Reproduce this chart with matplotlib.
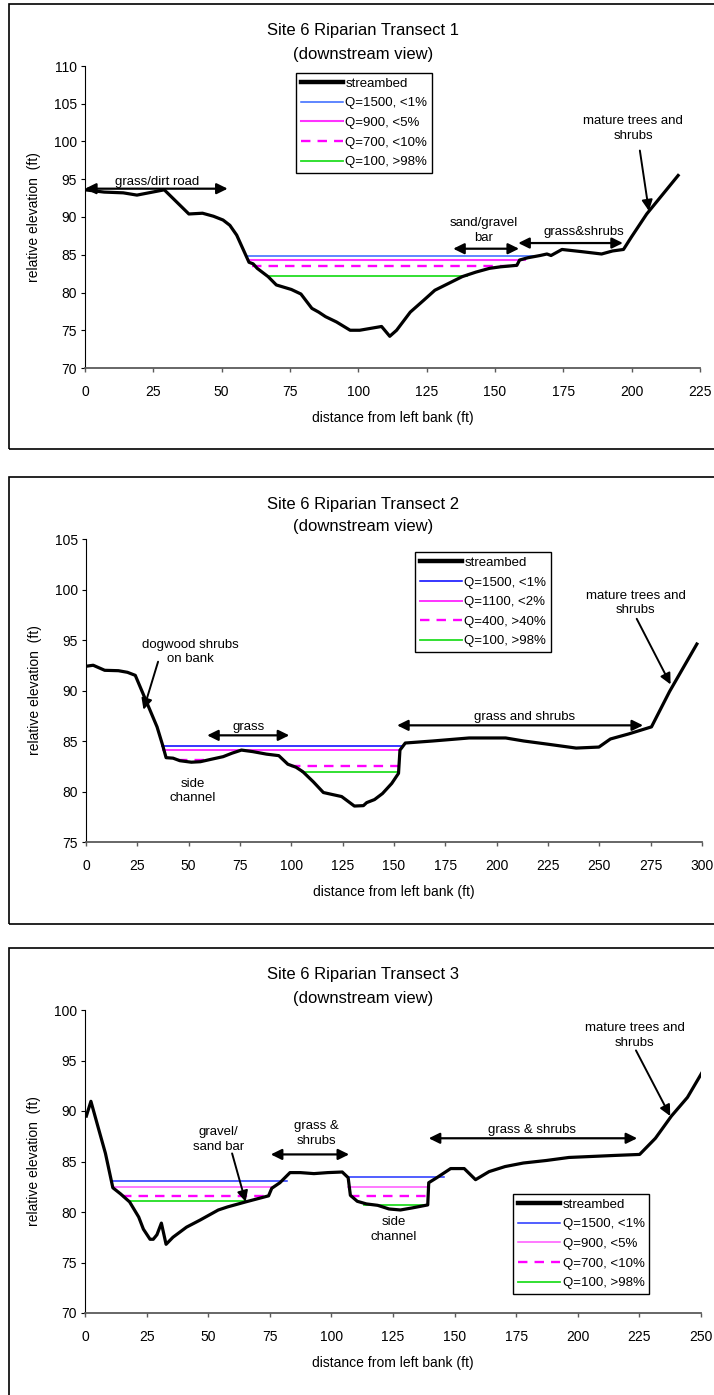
import matplotlib
matplotlib.use("Agg")
import matplotlib.pyplot as plt
from matplotlib.lines import Line2D
from matplotlib.patches import Rectangle

plt.rcParams['font.family'] = ['Liberation Sans', 'DejaVu Sans']

# ---------------- Transect 1 ----------------
t1_dist = [0, 7, 14, 19, 29, 38, 43, 47, 50.5, 53, 55.5, 60, 61.5, 63, 67, 70,
           75.5, 79, 83, 85.5, 88, 92, 97, 100.5, 108.5, 111.5, 114, 119, 124,
           128, 133, 138, 143, 148, 152, 158, 159, 162, 166.5, 169, 170.5,
           174.5, 182, 189, 193, 197, 200, 205.5, 217]
t1_elev = [93.6, 93.3, 93.2, 92.9, 93.6, 90.4, 90.5, 90.1, 89.6, 88.9, 87.6,
           84.0, 83.8, 83.2, 82.1, 81.0, 80.4, 79.8, 77.9, 77.4, 76.8, 76.1,
           75.0, 75.0, 75.5, 74.2, 75.0, 77.4, 79.0, 80.3, 81.2, 82.1, 82.7,
           83.2, 83.4, 83.6, 84.3, 84.6, 84.9, 85.1, 84.9, 85.7, 85.4, 85.1,
           85.5, 85.7, 87.4, 90.4, 95.5]
t1_labels = ['Q=1500, <1%', 'Q=900, <5%', 'Q=700, <10%', 'Q=100, >98%']
t1_wse = [[84.8], [84.35], [83.55], [82.2]]
t1_from = [[59.7], [59.8], [61.0], [67.7]]
t1_to = [[166.3], [161.0], [158.2], [139.7]]

# ---------------- Transect 2 ----------------
t2_dist = [0, 3.5, 9.1, 15.8, 20.2, 24, 29, 34.6, 37.3, 39, 42.4, 45.7, 51.3,
           55.7, 61.2, 66.8, 71.2, 75.7, 81.2, 87.9, 93.9, 98.3, 102.3, 105.6,
           110.7, 115.6, 120, 124.5, 130.7, 135.1, 136.7, 140.5, 144.4, 148.9,
           152.2, 152.9, 155.5, 168.8, 186.6, 204.4, 213.2, 224.3, 238.7,
           249.8, 255.4, 264.3, 275.4, 284.2, 297.5]
t2_elev = [92.4, 92.5, 92.0, 91.96, 91.8, 91.5, 89.1, 86.4, 84.6, 83.35, 83.3,
           83.05, 82.9, 82.95, 83.2, 83.45, 83.8, 84.1, 83.95, 83.7, 83.55,
           82.7, 82.4, 81.96, 80.96, 79.9, 79.7, 79.5, 78.56, 78.6, 78.9, 79.2,
           79.8, 80.8, 81.8, 84.1, 84.8, 85.0, 85.3, 85.3, 85.0, 84.7, 84.3,
           84.4, 85.2, 85.7, 86.4, 89.9, 94.6]
t2_labels = ['Q=1500, <1%', 'Q=1100, <2%', 'Q=400, >40%', 'Q=100, >98%']
t2_wse = [[84.5], [84.1], [83.1, 82.55], [81.9]]
t2_from = [[36.8], [37.3], [44.6, 99.6], [105.0]]
t2_to = [[153.8], [152.9], [59.0, 152.4], [152.4]]

# ---------------- Transect 3 ----------------
t3_dist = [0.55, 2.4, 5.2, 8.3, 11.3, 14.4, 18.1, 21.8, 23.7, 26.4, 27.7, 29.2,
           31.0, 32.9, 35.7, 41.2, 46.7, 54.1, 57.8, 65.2, 74.5, 75.8, 79.1,
           83.2, 87.4, 92.9, 98.5, 104.4, 106.8, 107.7, 110.5, 114.2, 118.8,
           123.4, 128, 132.7, 139.1, 139.5, 142.8, 148.4, 153.9, 158.5, 164,
           170.5, 177.9, 187.2, 196.4, 205.7, 214.9, 225.1, 231.5, 238, 244.5,
           250.4]
t3_elev = [89.5, 90.96, 88.5, 85.8, 82.4, 81.8, 81.0, 79.5, 78.3, 77.3, 77.3,
           77.75, 78.9, 76.8, 77.5, 78.5, 79.2, 80.2, 80.5, 81.0, 81.6, 82.35,
           82.9, 83.9, 83.9, 83.8, 83.9, 83.96, 83.4, 81.65, 81.06, 80.8, 80.66,
           80.3, 80.2, 80.4, 80.7, 82.9, 83.4, 84.3, 84.3, 83.2, 84.0, 84.5,
           84.85, 85.1, 85.4, 85.5, 85.6, 85.7, 87.3, 89.5, 91.35, 93.8]
t3_labels = ['Q=1500, <1%', 'Q=900, <5%', 'Q=700, <10%', 'Q=100, >98%']
t3_wse = [[83.1, 83.5], [82.5, 82.5], [81.6, 81.6], [81.1, 80.7]]
t3_from = [[10.8, 106.2], [11.3, 106.8], [14.9, 107.7], [17.9, 113.3]]
t3_to = [[81.9, 145.6], [76.3, 139.1], [74.3, 139.1], [64.9, 139.1]]

W, H = 714, 1395
fig = plt.figure(figsize=(W / 100, H / 100), dpi=100)
fig.patch.set_facecolor('white')


def px_rect(left, top, right, bottom):
    return [left / W, 1 - bottom / H, (right - left) / W, (bottom - top) / H]


# chart-area frames
for top, bottom in [(4, 449), (477, 924), (948, 1420)]:
    fig.add_artist(Rectangle((9 / W, 1 - bottom / H), (740 - 9) / W,
                             (bottom - top) / H, transform=fig.transFigure,
                             fill=False, edgecolor='black', lw=1.2))


def draw_panel(ax, dist, elev, wse, xf, xt, labels, colors, styles, widths,
               xmax, ylim, leg_anchor):
    ax.plot(dist, elev, color='black', lw=2.3, solid_joinstyle='round',
            zorder=5)
    handles = [Line2D([], [], color='black', lw=3.2, label='streambed')]
    for levels, a, b, lab, c, ls, w in zip(wse, xf, xt, labels, colors,
                                            styles, widths):
        for lev, x0, x1 in zip(levels, a, b):
            ax.plot([x0, x1], [lev, lev], color=c, ls=ls, lw=w, zorder=3,
                    dashes=(4, 3) if ls == '--' else (None, None))
        kw = dict(dashes=(4, 3)) if ls == '--' else {}
        handles.append(Line2D([], [], color=c, ls=ls, lw=w, label=lab, **kw))
    ax.set_xlim(0, xmax)
    ax.set_ylim(*ylim)
    ax.set_xticks(range(0, xmax + 1, 25))
    ax.set_yticks(range(ylim[0], ylim[1] + 1, 5))
    for s in ['top', 'right']:
        ax.spines[s].set_visible(False)
    ax.spines['left'].set_color('black')
    ax.spines['left'].set_linewidth(0.8)
    ax.spines['bottom'].set_color('#5a5a5a')
    ax.spines['bottom'].set_linewidth(1.3)
    ax.tick_params(axis='x', direction='out', length=3, width=1.0,
                   color='#5a5a5a', pad=9, labelsize=10)
    ax.tick_params(axis='y', direction='out', length=3, width=0.8,
                   color='black', pad=3, labelsize=10)
    ax.set_xlabel('distance from left bank (ft)', fontsize=10)
    ax.xaxis.set_label_coords(0.5, -0.166)
    ax.xaxis.label.set_va('center')
    ax.set_ylabel('relative elevation  (ft)', fontsize=10)
    ax.yaxis.set_label_coords(-0.083, 0.5)
    ax.yaxis.label.set_va('center')
    leg = ax.legend(handles=handles, loc='upper left',
                    bbox_to_anchor=leg_anchor, borderaxespad=0,
                    fancybox=False, edgecolor='black', framealpha=1,
                    fontsize=9.5, handlelength=3.2, handletextpad=0.2,
                    labelspacing=0.56, borderpad=0.35)
    leg.get_frame().set_linewidth(1.0)
    leg.set_zorder(10)


def title(top_px, num):
    fig.text(363 / W, 1 - (top_px - 35) / H,
             'Site 6 Riparian Transect %d' % num, ha='center', va='center',
             fontsize=12)
    fig.text(363 / W, 1 - (top_px - 12) / H, '(downstream view)',
             ha='center', va='center', fontsize=12)


def note(ax, x, y, s):
    ax.text(x, y, s, ha='center', va='center', fontsize=9.5,
            linespacing=1.3, zorder=6)


def both_ways(ax, x0, x1, y):
    ax.annotate('', xy=(x1, y), xytext=(x0, y),
                arrowprops=dict(arrowstyle='<|-|>,head_length=0.65,head_width=0.32',
                                color='black', lw=1.6, shrinkA=0, shrinkB=0,
                                mutation_scale=10), annotation_clip=False,
                zorder=6)


def pointer(ax, x0, y0, x1, y1):
    ax.annotate('', xy=(x1, y1), xytext=(x0, y0),
                arrowprops=dict(arrowstyle='-|>,head_length=0.65,head_width=0.32',
                                color='black', lw=1.4, shrinkA=0, shrinkB=0,
                                mutation_scale=10), annotation_clip=False,
                zorder=6)


# Transect 1
ax1 = fig.add_axes(px_rect(85, 66, 700, 368))
draw_panel(ax1, t1_dist, t1_elev, t1_wse, t1_from, t1_to, t1_labels,
           ['#3366FF', '#FF33FF', '#FF00FF', '#22DD22'],
           ['-', '-', '--', '-'], [1.1, 1.5, 1.7, 1.3],
           225, (70, 110), (0.343, 0.977))
title(66, 1)
note(ax1, 26.3, 94.6, 'grass/dirt road')
both_ways(ax1, 0, 52.2, 93.75)
note(ax1, 146, 88.2, 'sand/gravel\nbar')
both_ways(ax1, 134.7, 158.8, 85.8)
note(ax1, 182.5, 88.0, 'grass&shrubs')
both_ways(ax1, 158.5, 196.8, 86.55)
note(ax1, 200.5, 101.75, 'mature trees and\nshrubs')
pointer(ax1, 203, 98.8, 206.3, 90.8)

# Transect 2
ax2 = fig.add_axes(px_rect(86, 539, 702, 842))
draw_panel(ax2, t2_dist, t2_elev, t2_wse, t2_from, t2_to, t2_labels,
           ['#0000FF', '#FF33FF', '#FF00FF', '#22DD22'],
           ['-', '-', '--', '-'], [1.1, 1.4, 1.7, 1.3],
           300, (75, 105), (0.534, 0.957))
title(539, 2)
note(ax2, 50.8, 93.8, 'dogwood shrubs\non bank')
pointer(ax2, 35.1, 92.85, 28, 88.1)
note(ax2, 79.2, 86.4, 'grass')
both_ways(ax2, 59, 99, 85.56)
note(ax2, 52, 80.05, 'side\nchannel')
note(ax2, 213.7, 87.4, 'grass and shrubs')
both_ways(ax2, 151.5, 271.3, 86.55)
note(ax2, 267.8, 98.65, 'mature trees and\nshrubs')
pointer(ax2, 268.2, 97.1, 284.7, 90.6)

# Transect 3
ax3 = fig.add_axes(px_rect(85, 1010, 701, 1313))
draw_panel(ax3, t3_dist, t3_elev, t3_wse, t3_from, t3_to, t3_labels,
           ['#2233FF', '#FF55FF', '#FF00FF', '#22DD22'],
           ['-', '-', '--', '-'], [1.1, 1.1, 1.7, 1.3],
           250, (70, 100), (0.695, 0.393))
title(1010, 3)
note(ax3, 54.2, 87.2, 'gravel/\nsand bar')
pointer(ax3, 59.7, 85.8, 65.2, 81.0)
note(ax3, 93.9, 87.8, 'grass &\nshrubs')
both_ways(ax3, 75.4, 107.2, 85.7)
note(ax3, 125.3, 78.25, 'side\nchannel')
note(ax3, 181.6, 88.1, 'grass & shrubs')
both_ways(ax3, 139.5, 224.1, 87.3)
note(ax3, 223.2, 97.45, 'mature trees and\nshrubs')
pointer(ax3, 223.6, 96.0, 237.5, 89.5)

fig.savefig('out.png', dpi=100, facecolor='white')
